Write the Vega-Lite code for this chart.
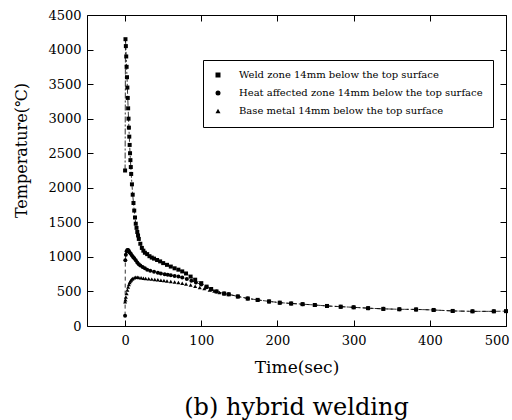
{
  "$schema": "https://vega.github.io/schema/vega-lite/v6.json",
  "autosize": "none",
  "width": 419,
  "height": 311,
  "padding": {"left": 87, "top": 15, "right": 6, "bottom": 94},
  "title": {"text": "(b) hybrid welding", "orient": "bottom", "font": "DejaVu Serif", "fontSize": 24, "fontWeight": "normal", "color": "black", "offset": 21},
  "data": {"values": [
    {"series": "Weld", "t": 0, "T": 2250},
    {"series": "Weld", "t": 0.5, "T": 4150},
    {"series": "Weld", "t": 1, "T": 4050},
    {"series": "Weld", "t": 1.5, "T": 3900},
    {"series": "Weld", "t": 2, "T": 3750},
    {"series": "Weld", "t": 2.5, "T": 3600},
    {"series": "Weld", "t": 3, "T": 3450},
    {"series": "Weld", "t": 3.5, "T": 3300},
    {"series": "Weld", "t": 4, "T": 3150},
    {"series": "Weld", "t": 4.5, "T": 3000},
    {"series": "Weld", "t": 5, "T": 2870},
    {"series": "Weld", "t": 5.5, "T": 2740},
    {"series": "Weld", "t": 6, "T": 2620},
    {"series": "Weld", "t": 6.5, "T": 2500},
    {"series": "Weld", "t": 7, "T": 2400},
    {"series": "Weld", "t": 7.5, "T": 2300},
    {"series": "Weld", "t": 8, "T": 2200},
    {"series": "Weld", "t": 9, "T": 2050},
    {"series": "Weld", "t": 10, "T": 1900},
    {"series": "Weld", "t": 11, "T": 1780},
    {"series": "Weld", "t": 12, "T": 1670},
    {"series": "Weld", "t": 13, "T": 1570},
    {"series": "Weld", "t": 14, "T": 1480},
    {"series": "Weld", "t": 15, "T": 1420},
    {"series": "Weld", "t": 16, "T": 1360},
    {"series": "Weld", "t": 17, "T": 1310},
    {"series": "Weld", "t": 18, "T": 1260},
    {"series": "Weld", "t": 20, "T": 1190},
    {"series": "Weld", "t": 22, "T": 1130},
    {"series": "Weld", "t": 24, "T": 1090},
    {"series": "Weld", "t": 26, "T": 1060},
    {"series": "Weld", "t": 29, "T": 1040},
    {"series": "Weld", "t": 32, "T": 1010},
    {"series": "Weld", "t": 35, "T": 990},
    {"series": "Weld", "t": 38, "T": 975},
    {"series": "Weld", "t": 42, "T": 955},
    {"series": "Weld", "t": 46, "T": 935},
    {"series": "Weld", "t": 50, "T": 910},
    {"series": "Weld", "t": 55, "T": 885},
    {"series": "Weld", "t": 60, "T": 860},
    {"series": "Weld", "t": 65, "T": 835},
    {"series": "Weld", "t": 70, "T": 815},
    {"series": "Weld", "t": 75, "T": 790},
    {"series": "Weld", "t": 80, "T": 760},
    {"series": "Weld", "t": 86, "T": 715},
    {"series": "Weld", "t": 92, "T": 670},
    {"series": "Weld", "t": 100, "T": 620},
    {"series": "Weld", "t": 107, "T": 570},
    {"series": "Weld", "t": 113, "T": 535},
    {"series": "Weld", "t": 120, "T": 500},
    {"series": "Weld", "t": 130, "T": 470},
    {"series": "Weld", "t": 136, "T": 458},
    {"series": "Weld", "t": 148, "T": 428},
    {"series": "Weld", "t": 161, "T": 398},
    {"series": "Weld", "t": 174, "T": 378},
    {"series": "Weld", "t": 189, "T": 356},
    {"series": "Weld", "t": 203, "T": 338},
    {"series": "Weld", "t": 218, "T": 326},
    {"series": "Weld", "t": 233, "T": 316},
    {"series": "Weld", "t": 249, "T": 304},
    {"series": "Weld", "t": 265, "T": 290},
    {"series": "Weld", "t": 283, "T": 280},
    {"series": "Weld", "t": 300, "T": 270},
    {"series": "Weld", "t": 319, "T": 258},
    {"series": "Weld", "t": 339, "T": 248},
    {"series": "Weld", "t": 360, "T": 242},
    {"series": "Weld", "t": 382, "T": 240},
    {"series": "Weld", "t": 405, "T": 232},
    {"series": "Weld", "t": 430, "T": 218},
    {"series": "Weld", "t": 456, "T": 212},
    {"series": "Weld", "t": 484, "T": 212},
    {"series": "Weld", "t": 500, "T": 215},
    {"series": "HAZ", "t": 0, "T": 150},
    {"series": "HAZ", "t": 0.3, "T": 950},
    {"series": "HAZ", "t": 1, "T": 1030},
    {"series": "HAZ", "t": 2, "T": 1080},
    {"series": "HAZ", "t": 3, "T": 1100},
    {"series": "HAZ", "t": 4, "T": 1100},
    {"series": "HAZ", "t": 5, "T": 1085},
    {"series": "HAZ", "t": 6, "T": 1065},
    {"series": "HAZ", "t": 7.5, "T": 1045},
    {"series": "HAZ", "t": 9, "T": 1020},
    {"series": "HAZ", "t": 10.5, "T": 1000},
    {"series": "HAZ", "t": 12, "T": 980},
    {"series": "HAZ", "t": 14, "T": 950},
    {"series": "HAZ", "t": 16, "T": 920},
    {"series": "HAZ", "t": 18, "T": 895},
    {"series": "HAZ", "t": 20, "T": 875},
    {"series": "HAZ", "t": 23, "T": 855},
    {"series": "HAZ", "t": 26, "T": 835},
    {"series": "HAZ", "t": 29, "T": 815},
    {"series": "HAZ", "t": 33, "T": 800},
    {"series": "HAZ", "t": 38, "T": 785},
    {"series": "HAZ", "t": 43, "T": 770},
    {"series": "HAZ", "t": 47, "T": 760},
    {"series": "HAZ", "t": 52, "T": 750},
    {"series": "HAZ", "t": 56, "T": 740},
    {"series": "HAZ", "t": 60, "T": 735},
    {"series": "HAZ", "t": 65, "T": 725},
    {"series": "HAZ", "t": 70, "T": 715},
    {"series": "HAZ", "t": 75, "T": 700},
    {"series": "HAZ", "t": 81, "T": 680},
    {"series": "HAZ", "t": 87, "T": 655},
    {"series": "HAZ", "t": 93, "T": 630},
    {"series": "HAZ", "t": 100, "T": 600},
    {"series": "HAZ", "t": 107, "T": 560},
    {"series": "HAZ", "t": 113, "T": 528},
    {"series": "HAZ", "t": 120, "T": 500},
    {"series": "HAZ", "t": 130, "T": 470},
    {"series": "HAZ", "t": 136, "T": 458},
    {"series": "HAZ", "t": 148, "T": 428},
    {"series": "HAZ", "t": 161, "T": 398},
    {"series": "HAZ", "t": 174, "T": 378},
    {"series": "HAZ", "t": 189, "T": 356},
    {"series": "HAZ", "t": 203, "T": 338},
    {"series": "HAZ", "t": 218, "T": 326},
    {"series": "HAZ", "t": 233, "T": 316},
    {"series": "HAZ", "t": 249, "T": 304},
    {"series": "HAZ", "t": 265, "T": 290},
    {"series": "HAZ", "t": 283, "T": 280},
    {"series": "HAZ", "t": 300, "T": 270},
    {"series": "HAZ", "t": 319, "T": 258},
    {"series": "HAZ", "t": 339, "T": 248},
    {"series": "HAZ", "t": 360, "T": 242},
    {"series": "HAZ", "t": 382, "T": 240},
    {"series": "HAZ", "t": 405, "T": 232},
    {"series": "HAZ", "t": 430, "T": 218},
    {"series": "HAZ", "t": 456, "T": 212},
    {"series": "HAZ", "t": 484, "T": 212},
    {"series": "Base", "t": 0, "T": 350},
    {"series": "Base", "t": 0.5, "T": 380},
    {"series": "Base", "t": 1, "T": 420},
    {"series": "Base", "t": 2, "T": 470},
    {"series": "Base", "t": 3, "T": 520},
    {"series": "Base", "t": 4, "T": 565},
    {"series": "Base", "t": 5, "T": 600},
    {"series": "Base", "t": 6, "T": 630},
    {"series": "Base", "t": 7, "T": 650},
    {"series": "Base", "t": 8, "T": 665},
    {"series": "Base", "t": 9, "T": 678},
    {"series": "Base", "t": 10, "T": 688},
    {"series": "Base", "t": 12, "T": 698},
    {"series": "Base", "t": 14, "T": 705},
    {"series": "Base", "t": 16, "T": 705},
    {"series": "Base", "t": 18, "T": 702},
    {"series": "Base", "t": 21, "T": 698},
    {"series": "Base", "t": 24, "T": 692},
    {"series": "Base", "t": 27, "T": 688},
    {"series": "Base", "t": 31, "T": 683},
    {"series": "Base", "t": 35, "T": 678},
    {"series": "Base", "t": 39, "T": 672},
    {"series": "Base", "t": 43, "T": 668},
    {"series": "Base", "t": 47, "T": 662},
    {"series": "Base", "t": 51, "T": 657},
    {"series": "Base", "t": 55, "T": 652},
    {"series": "Base", "t": 60, "T": 645},
    {"series": "Base", "t": 65, "T": 638},
    {"series": "Base", "t": 70, "T": 630},
    {"series": "Base", "t": 75, "T": 620},
    {"series": "Base", "t": 80, "T": 608},
    {"series": "Base", "t": 86, "T": 592},
    {"series": "Base", "t": 92, "T": 575},
    {"series": "Base", "t": 98, "T": 558},
    {"series": "Base", "t": 104, "T": 542},
    {"series": "Base", "t": 111, "T": 522},
    {"series": "Base", "t": 117, "T": 505},
    {"series": "Base", "t": 124, "T": 485},
    {"series": "Base", "t": 130, "T": 470},
    {"series": "Base", "t": 136, "T": 458},
    {"series": "Base", "t": 148, "T": 428},
    {"series": "Base", "t": 161, "T": 398},
    {"series": "Base", "t": 174, "T": 378},
    {"series": "Base", "t": 189, "T": 356},
    {"series": "Base", "t": 203, "T": 338},
    {"series": "Base", "t": 218, "T": 326},
    {"series": "Base", "t": 233, "T": 316},
    {"series": "Base", "t": 249, "T": 304},
    {"series": "Base", "t": 265, "T": 290},
    {"series": "Base", "t": 283, "T": 280},
    {"series": "Base", "t": 300, "T": 270},
    {"series": "Base", "t": 319, "T": 258},
    {"series": "Base", "t": 339, "T": 248},
    {"series": "Base", "t": 360, "T": 242},
    {"series": "Base", "t": 382, "T": 240},
    {"series": "Base", "t": 405, "T": 232},
    {"series": "Base", "t": 430, "T": 218},
    {"series": "Base", "t": 456, "T": 212},
    {"series": "Base", "t": 484, "T": 212}
  ]},
  "layer": [
    {
      "transform": [{"filter": "datum.series !== 'Base'"}],
      "mark": {"type": "line", "color": "black", "strokeWidth": 0.8},
      "encoding": {
        "x": {"field": "t", "type": "quantitative", "scale": {"domain": [-50, 500], "nice": false, "zero": false},
          "axis": {"orient": "bottom", "title": "Time(sec)", "values": [0, 100, 200, 300, 400, 500],
            "tickSize": -6, "tickColor": "black", "tickWidth": 1, "domainColor": "black", "grid": false,
            "labelFont": "DejaVu Serif", "labelFontSize": 13, "labelColor": "black", "labelPadding": 14, "labelDx": -3, "labelFlush": 5, "labelFlushOffset": 3, "labelOverlap": false,
            "titleFont": "DejaVu Serif", "titleFontSize": 17, "titleFontWeight": "normal", "titleColor": "black", "titlePadding": 12}},
        "y": {"field": "T", "type": "quantitative", "scale": {"domain": [0, 4500], "nice": false},
          "axis": {"orient": "left", "title": "Temperature(℃)", "values": [0, 500, 1000, 1500, 2000, 2500, 3000, 3500, 4000, 4500],
            "format": "d", "tickSize": -6, "tickColor": "black", "tickWidth": 1, "domainColor": "black", "grid": false,
            "labelFont": "DejaVu Serif", "labelFontSize": 13, "labelColor": "black", "labelPadding": 12, "labelDy": -2, "labelFlush": false, "labelOverlap": false,
            "titleFont": "DejaVu Serif", "titleFontSize": 16, "titleFontWeight": "normal", "titleColor": "black",
            "titleX": -66, "titleY": 135, "titleAlign": "center", "titleBaseline": "middle", "titleAngle": -90}},
        "strokeDash": {"field": "series", "type": "nominal",
          "scale": {"domain": ["Weld", "HAZ"], "range": [[6, 2, 2, 2], [4, 3]]},
          "legend": null},
        "detail": {"field": "series"}
      }
    },
    {
      "mark": {"type": "point", "filled": true, "color": "black", "size": 16, "opacity": 1},
      "encoding": {
        "x": {"field": "t", "type": "quantitative",
          "axis": {"orient": "top", "title": null, "values": [0, 100, 200, 300, 400, 500], "labels": false,
            "tickSize": -6, "tickColor": "black", "tickWidth": 1, "domainColor": "black", "grid": false}},
        "y": {"field": "T", "type": "quantitative",
          "axis": {"orient": "right", "title": null, "values": [0, 500, 1000, 1500, 2000, 2500, 3000, 3500, 4000, 4500], "labels": false,
            "tickSize": -6, "tickColor": "black", "tickWidth": 1, "domainColor": "black", "grid": false}},
        "shape": {"field": "series", "type": "nominal",
          "scale": {"domain": ["Weld", "HAZ", "Base"], "range": ["square", "circle", "triangle-up"]},
          "legend": {"title": null, "orient": "none", "legendX": 116, "legendY": 45,
            "labelExpr": "datum.value === 'Weld' ? 'Weld zone 14mm below the top surface' : datum.value === 'HAZ' ? 'Heat affected zone 14mm below the top surface' : 'Base metal 14mm below the top surface'",
            "labelFont": "DejaVu Serif", "labelFontSize": 10, "labelColor": "black", "labelLimit": 400, "labelOffset": 16,
            "symbolFillColor": "black", "symbolStrokeColor": "black", "symbolSize": 25,
            "strokeColor": "black", "fillColor": "white", "padding": 10, "rowPadding": 6, "cornerRadius": 0}}
      }
    }
  ],
  "resolve": {"axis": {"x": "independent", "y": "independent"}}
}
